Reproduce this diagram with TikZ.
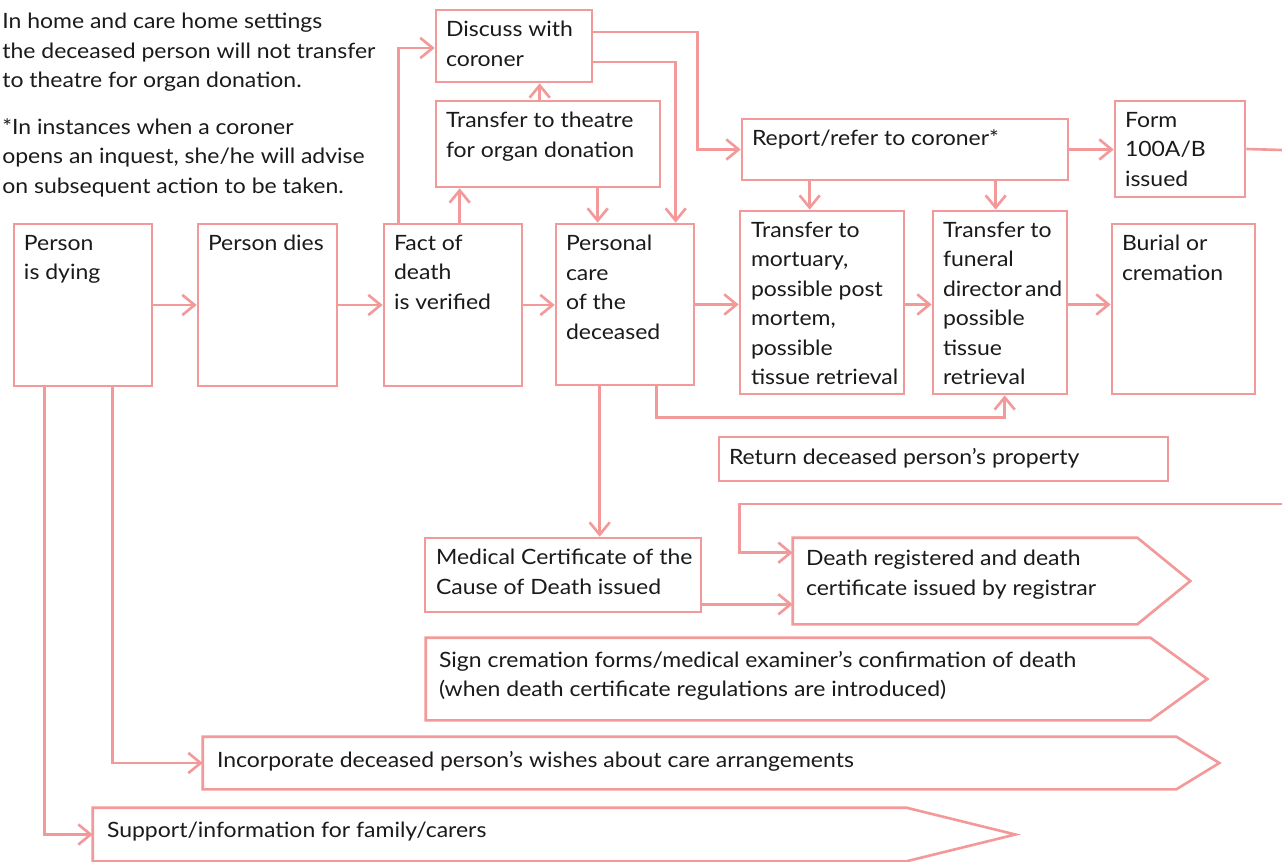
\documentclass[tikz,border=0pt]{standalone}
\usepackage{fontspec}
\setmainfont{Lato}[FakeStretch=1.09]
\usetikzlibrary{arrows.meta, positioning, fit}
\definecolor{flowpink}{RGB}{243,153,153}
\definecolor{inkgrey}{RGB}{26,26,26}
\newcommand{\boxfont}{\fontsize{12}{16.8}\selectfont}

\begin{document}
\begin{tikzpicture}[
    x = 0.02cm, y = -0.02cm, % pixel grid, y runs down
    > = {Straight Barb[length=7pt, width=11.5pt]}, % open arrow head
    line width = 1.5pt,
    box/.style = {draw = flowpink, inner sep = 0pt},
    body/.style = {inner sep = 0pt},
    arr/.style = {->, draw = flowpink},
    flow/.style = {draw = flowpink},
    txt/.style = {anchor = north west, align = left, inner sep = 0pt,
                  font = \boxfont, text = inkgrey}
  ]
  \useasboundingbox (0,0) rectangle (1282,862);

  % notes
  \node[txt] (note1) at (1,12) {In home and care home settings\\the deceased person will not transfer\\to theatre for organ donation.};
  \node[txt] (note2) at (1,117) {*In instances when a coroner\\opens an inquest, she/he will advise\\on subsequent action to be taken.};

  % boxes
  \node[box, fit={(14,224) (152,386)}] (dying) {};
  \node[box, fit={(198,224) (337,386)}] (dies) {};
  \node[box, fit={(384,224) (522,386)}] (fact) {};
  \node[box, fit={(556,224) (694,385)}] (personal) {};
  \node[box, fit={(740,211) (904,394)}] (mortuary) {};
  \node[box, fit={(933,211) (1067,394)}] (funeral) {};
  \node[box, fit={(1112,224) (1255,394)}] (burial) {};
  \node[box, fit={(436,10) (592,82)}] (discuss) {};
  \node[box, fit={(436,101) (660,187)}] (theatre) {};
  \node[box, fit={(742,119) (1068,180)}] (report) {};
  \node[box, fit={(1115,101) (1245,197)}] (form) {};
  \node[box, fit={(719,437) (1168,481)}] (property) {};
  \node[box, fit={(425,538) (701,612)}] (mccd) {};

  % pointed boxes
  \node[body, fit={(794,539) (1136,623)}] (registrar) {};
  \node[body, fit={(427,639) (1149,719)}] (cremation) {};
  \node[body, fit={(204,738) (1175,788)}] (wishes) {};
  \node[body, fit={(94,809) (905,860)}] (support) {};
  \foreach \n/\t in {registrar/53, cremation/57, wishes/43, support/109}
    \draw[flow] (\n.north west) -- (\n.north east) -- ([shift={(\t,0)}]\n.east)
      -- (\n.south east) -- (\n.south west) -- cycle;

  % texts
  \node[txt] (dyingT) at ([shift={(10,11)}]dying.north west) {Person\\is dying};
  \node[txt] (diesT) at ([shift={(10,11)}]dies.north west) {Person dies};
  \node[txt] (factT) at ([shift={(10,11)}]fact.north west) {Fact of\\death\\is verified};
  \node[txt] (personalT) at ([shift={(10,11)}]personal.north west) {Personal\\care\\of the\\deceased};
  \node[txt] (mortuaryT) at ([shift={(11,11)}]mortuary.north west) {Transfer to\\mortuary,\\possible post\\mortem,\\possible\\tissue retrieval};
  \node[txt] (funeralT) at ([shift={(10,11)}]funeral.north west) {Transfer to\\funeral\\director\hspace{0.15em}and\\possible\\tissue\\retrieval};
  \node[txt] (burialT) at ([shift={(10,11)}]burial.north west) {Burial or\\cremation};
  \node[txt] (discussT) at ([shift={(10,11)}]discuss.north west) {Discuss with\\coroner};
  \node[txt] (theatreT) at ([shift={(10,11)}]theatre.north west) {Transfer to theatre\\for organ donation};
  \node[txt] (reportT) at ([shift={(10,11)}]report.north west) {Report/refer to coroner*};
  \node[txt] (formT) at ([shift={(10,11)}]form.north west) {Form\\100A/B\\issued};
  \node[txt] (propertyT) at ([shift={(10,11)}]property.north west) {Return deceased person’s property};
  \node[txt] (mccdT) at ([shift={(11,11)}]mccd.north west) {Medical Certificate of the\\Cause of Death issued};
  \node[txt] (registrarT) at ([shift={(12,11)}]registrar.north west) {Death registered and death\\certificate issued by registrar};
  \node[txt] (cremationT) at ([shift={(12,12)}]cremation.north west) {Sign cremation forms/medical examiner’s confirmation of death\\(when death certificate regulations are introduced)};
  \node[txt] (wishesT) at ([shift={(13,13)}]wishes.north west) {Incorporate deceased person’s wishes about care arrangements};
  \node[txt] (supportT) at ([shift={(13,13)}]support.north west) {Support/information for family/carers};

  % loose ends off the right edge
  \coordinate (rimA) at (1282,150);
  \coordinate (rimB) at (1282,504);

  % main row
  \draw[arr] (dying) -- (dies);
  \draw[arr] (dies) -- (fact);
  \draw[arr] (fact.east) -- (fact.east -| personal.west);
  \draw[arr] (personal.east) -- (personal.east -| mortuary.west);
  \draw[arr] (mortuary.east |- personal.east) -- (funeral.west |- personal.east);
  \draw[arr] (funeral.east |- personal.east) -- (burial.west |- personal.east);

  % upper routes
  \draw[arr] ([shift={(16,0)}]fact.north west) |- ([shift={(0,2)}]discuss.west);
  \draw[arr] ([shift={(77,0)}]fact.north west) -- ([shift={(25,0)}]theatre.south west);
  \draw[arr] ([shift={(105,0)}]theatre.north west) -- ([shift={(105,0)}]discuss.south west);
  \draw[arr] ([shift={(163,0)}]theatre.south west) -- ([shift={(43,0)}]personal.north west);
  \draw[arr] ([shift={(0,-14)}]discuss.east) -- ++(104,0) |- (report.west);
  \draw[arr] ([shift={(0,16)}]discuss.east) -| ([shift={(121,0)}]personal.north west);
  \draw[arr] ([shift={(69,0)}]report.south west) -- ([shift={(71,0)}]mortuary.north west);
  \draw[arr] ([shift={(255,0)}]report.south west) -- ([shift={(64,0)}]funeral.north west);
  \draw[arr] (report.east) -- (report.east -| form.west);
  \draw[flow] (form.east) -- (rimA);

  % lower routes
  \draw[arr] ([shift={(102,0)}]personal.south west) |- ([shift={(73,22)}]funeral.south west)
    -- ([shift={(73,0)}]funeral.south west);
  \draw[arr] ([shift={(45,0)}]personal.south west) -- ([shift={(176,0)}]mccd.north west);
  \draw[arr] (rimB) -| ([shift={(-53,15)}]registrar.north west) -- ([shift={(0,15)}]registrar.north west);
  \draw[arr] ([shift={(0,-9)}]mccd.south east) -- ([shift={(0,-9)}]mccd.south east -| registrar.west);
  \draw[arr] ([shift={(100,0)}]dying.south west) |- (wishes.west);
  \draw[arr] ([shift={(32,0)}]dying.south west) |- (support.west);
\end{tikzpicture}
\end{document}
